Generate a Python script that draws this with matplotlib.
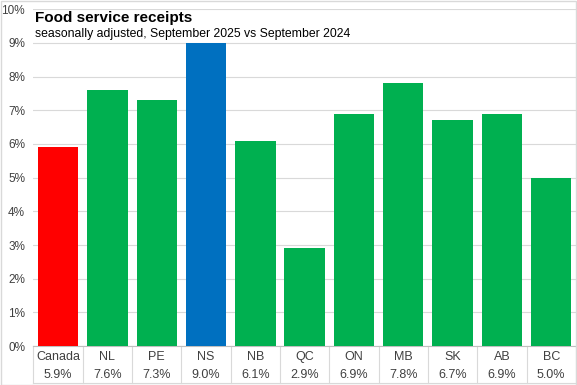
import numpy as np
import matplotlib
matplotlib.use("Agg")
from matplotlib import pyplot as plt
from matplotlib import transforms

# Data
regions = ["Canada", "NL", "PE", "NS", "NB", "QC", "ON", "MB", "SK", "AB", "BC"]
values = [5.9, 7.6, 7.3, 9.0, 6.1, 2.9, 6.9, 7.8, 6.7, 6.9, 5.0]
colors = ["#FF0000", "#00B050", "#00B050", "#0070C0", "#00B050", "#00B050",
          "#00B050", "#00B050", "#00B050", "#00B050", "#00B050"]
yticks = list(range(0, 11))

plt.rcParams["font.family"] = ["Liberation Sans", "DejaVu Sans"]

fig = plt.figure(figsize=(5.77, 3.85), dpi=100)
ax = fig.add_axes([0.058, 0.101, 0.94, 0.875])

x = np.arange(len(regions))
ax.bar(x, values, width=0.82, color=colors, zorder=3)

ax.set_xlim(-0.5, len(regions) - 0.5)
ax.set_ylim(0, 10)
ax.set_yticks(yticks)
ax.set_yticklabels(["{}%".format(t) for t in yticks], fontsize=8.5, color="#404040")
ax.tick_params(axis="y", length=0, pad=6)
ax.set_xticks([])
ax.grid(axis="y", color="#D9D9D9", linewidth=0.8, zorder=0)

for s in ["top", "right", "left"]:
    ax.spines[s].set_visible(False)
ax.spines["bottom"].set_color("#BFBFBF")

# Table-style category labels under the bars
trans = transforms.blended_transform_factory(ax.transData, ax.transAxes)
for i in range(len(regions) + 1):
    ax.plot([i - 0.5, i - 0.5], [0, -0.11], transform=trans, color="#D9D9D9",
            linewidth=0.8, clip_on=False)
ax.plot([-0.5, len(regions) - 0.5], [-0.11, -0.11], transform=trans,
        color="#D9D9D9", linewidth=0.8, clip_on=False)
for i, (r, v) in enumerate(zip(regions, values)):
    ax.text(i, -0.032, r, transform=trans, ha="center", va="center",
            fontsize=9, color="#404040")
    ax.text(i, -0.085, "{:.1f}%".format(v), transform=trans, ha="center",
            va="center", fontsize=9, color="#404040")

# Title block
fig.text(0.061, 0.952, "Food service receipts", fontsize=11, fontweight="bold",
         va="center", color="#000000")
fig.text(0.061, 0.912, "seasonally adjusted, September 2025 vs September 2024",
         fontsize=8.8, va="center", color="#000000")

# Outer frame
fig.patches.append(plt.Rectangle((0.001, 0.001), 0.998, 0.997, fill=False,
                                 edgecolor="#D9D9D9", linewidth=1,
                                 transform=fig.transFigure))

fig.savefig("out.png", dpi=100)
